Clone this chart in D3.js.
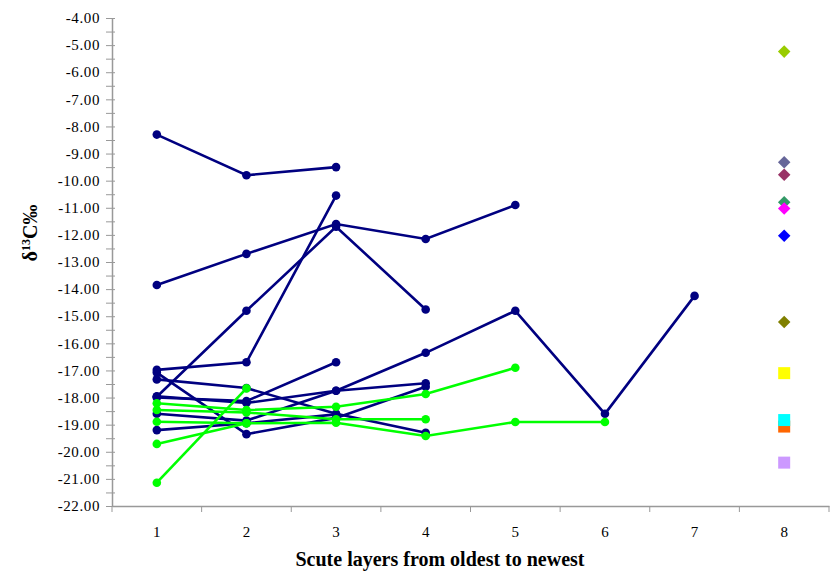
<!DOCTYPE html>
<html><head><meta charset="utf-8">
<script src="https://cdn.jsdelivr.net/npm/d3@7"></script>
<style>body{margin:0;background:#fff}svg{display:block}</style>
</head><body>
<svg id="c" width="833" height="582"></svg>
<script>
(function(){
const categories = [1,2,3,4,5,6,7,8];
const yTicks = [-4,-5,-6,-7,-8,-9,-10,-11,-12,-13,-14,-15,-16,-17,-18,-19,-20,-21,-22];

// navy series (values by layer, starting at layer 1)
const navy1  = [-8.3, -9.8, -9.5];
const navy2  = [-13.85, -12.7, -11.6, -12.15, -10.9];
const navy3  = [-17.97, -14.8, -11.7, -14.75];
const navy4  = [-16.98, -16.7, -10.55];
const navy5  = [-17.08, -19.35, -18.75, -17.6];
const navy6  = [-17.33, -17.65, -18.6, -19.3];
const navy7  = [-18.0, -18.13, -16.7];
const navy8  = [-17.95, -18.2, -17.75, -17.47];
const navy9  = [-18.6, -18.85, -17.75, -16.35, -14.8, -18.6, -14.25];
const navy10 = [-19.2, -18.95, -18.62];

// green series
const green1 = [-21.14, -17.66];
const green2 = [-18.21, -18.46, -18.34, -17.87, -16.9];
const green3 = [-18.46, -18.55, -18.8, -18.8];
const green4 = [-18.89, -18.95, -18.93, -19.42, -18.9, -18.9];
const green5 = [-19.71, -18.95];

// single markers at layer 8
const diamondValues = [-5.24, -9.32, -9.78, -10.8, -11.03, -12.03, -15.21];
const diamondColors = ["#99CC00", "#666699", "#993366", "#339966", "#FF00FF", "#0000FF", "#808000"];
const squareValues = [-17.1, -19.07, -18.83, -20.4];
const squareColors = ["#FFFF00", "#FF6600", "#00FFFF", "#CC99FF"];

const navySeries = [navy1,navy2,navy3,navy4,navy5,navy6,navy7,navy8,navy9,navy10];
const greenSeries = [green1,green2,green3,green4,green5];

const svg = d3.select("#c");
const pLeft = 112, pRight = 829, pTop = 18, pBottom = 506;

const x = d3.scaleBand().domain(categories).range([pLeft, pRight]).padding(0);
const xc = c => x(c) + x.bandwidth()/2;
const y = d3.scaleLinear().domain([-22, -4]).range([pBottom, pTop]);

const axisColor = "#999";
const serif = "Liberation Serif, Times New Roman, serif";

// y axis
const minor = d3.range(-22, -3.9, 0.5);
const yAxis = d3.axisLeft(y).tickValues(minor).tickSize(0).tickFormat("");
const gy = svg.append("g").attr("transform", `translate(${pLeft},0)`).call(yAxis);
gy.select(".domain").attr("stroke", axisColor).attr("stroke-width", 1.5);
gy.selectAll(".tick").append("line").attr("x1", -6).attr("x2", 3).attr("stroke", axisColor).attr("stroke-width", 1);
svg.append("g").selectAll("text").data(yTicks).join("text")
  .attr("x", 100).attr("y", d => y(d)).attr("dy", "0.35em")
  .attr("text-anchor", "end")
  .attr("font-family", serif)
  .attr("font-size", 15).attr("letter-spacing", 0.6).attr("fill", "#000")
  .text(d => d.toFixed(2));

// x axis
const gx = svg.append("g").attr("transform", `translate(0,${pBottom})`)
  .call(d3.axisBottom(x).tickSize(0).tickFormat(""));
gx.select(".domain").attr("stroke", axisColor).attr("stroke-width", 1.5);
const bounds = categories.map(c => x(c)).concat([pRight]);
svg.append("g").selectAll("line").data(bounds).join("line")
  .attr("x1", d => d).attr("x2", d => d).attr("y1", pBottom).attr("y2", pBottom + 6)
  .attr("stroke", axisColor).attr("stroke-width", 1);
svg.append("g").selectAll("text").data(categories).join("text")
  .attr("x", d => xc(d)).attr("y", 537).attr("text-anchor", "middle")
  .attr("font-family", serif)
  .attr("font-size", 15).attr("fill", "#000").text(d => d);

// titles
svg.append("text").attr("x", 440).attr("y", 566).attr("text-anchor", "middle")
  .attr("font-family", serif)
  .attr("font-weight", "bold").attr("font-size", 20).text("Scute layers from oldest to newest");
const yt = svg.append("text").attr("transform", "translate(37,233) rotate(-90)").attr("text-anchor", "middle")
  .attr("font-family", serif)
  .attr("font-weight", "bold").attr("font-size", 20);
yt.append("tspan").text("δ");
yt.append("tspan").attr("dy", -7).attr("font-size", 12).text("13");
yt.append("tspan").attr("dy", 7).text("C‰");

// lines
const line = d3.line().x((d,i) => xc(categories[i])).y(d => y(d));
function drawSeries(list, color) {
  list.forEach(s => {
    const g = svg.append("g");
    g.append("path").attr("d", line(s)).attr("fill", "none").attr("stroke", color).attr("stroke-width", 2.6);
    g.selectAll("circle").data(s).join("circle")
      .attr("cx", (d,i) => xc(categories[i])).attr("cy", d => y(d)).attr("r", 4.3).attr("fill", color);
  });
}
drawSeries(navySeries, "#000080");
drawSeries(greenSeries, "#00FF00");

// layer-8 markers
const x8 = xc(8);
svg.append("g").selectAll("rect").data(squareValues).join("rect")
  .attr("x", x8 - 6).attr("y", d => y(d) - 6).attr("width", 12).attr("height", 12)
  .attr("fill", (d,i) => squareColors[i]);
svg.append("g").selectAll("path").data(diamondValues).join("path")
  .attr("d", d3.symbol().type(d3.symbolDiamond2).size(100))
  .attr("transform", d => `translate(${x8},${y(d)})`)
  .attr("fill", (d,i) => diamondColors[i]);
})();
</script>
</body></html>
